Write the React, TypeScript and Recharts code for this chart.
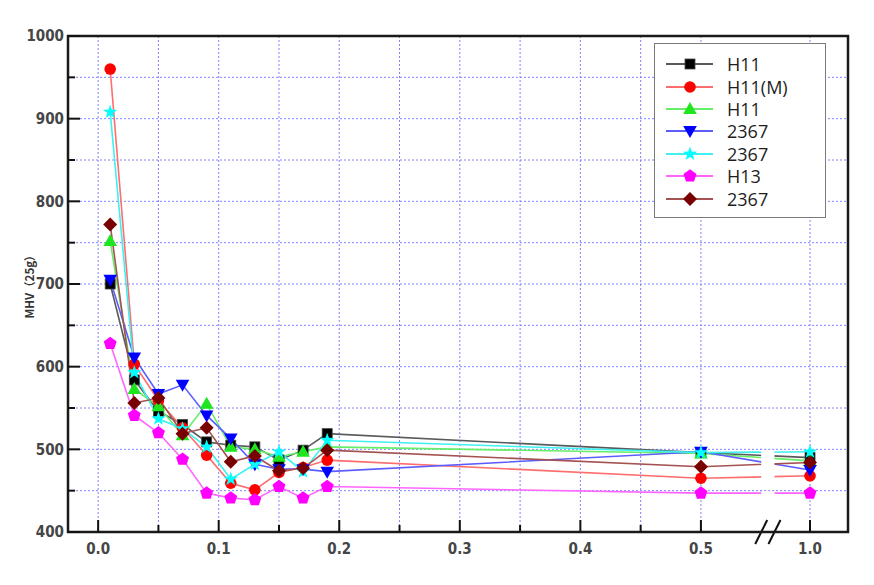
import React from 'react';
import { LineChart, Line, XAxis, YAxis, CartesianGrid, ReferenceArea, Legend } from 'recharts';

// ---- data ----
const depths = [0.01, 0.03, 0.05, 0.07, 0.09, 0.11, 0.13, 0.15, 0.17, 0.19, 0.5, 1.0];
const h11 = [700, 584, 546, 530, 509, 505, 503, 487, 499, 519, 496, 490];
const h11m = [960, 603, 559, 526, 493, 459, 451, 472, 478, 487, 465, 468];
const h11b = [752, 573, 552, 517, 555, 503, 500, 491, 497, 503, 495, 486];
const s2367a = [705, 611, 567, 578, 541, 513, 482, 476, 476, 473, 497, 475];
const s2367b = [908, 593, 537, 525, 503, 464, 482, 497, 473, 511, 496, 497];
const h13 = [628, 541, 520, 488, 447, 441, 439, 455, 441, 455, 447, 447];
const s2367c = [772, 556, 562, 519, 526, 485, 492, 474, 477, 499, 479, 484];

const seriesNames = ['H11', 'H11(M)', 'H11', '2367', '2367', 'H13', '2367'];
const xMajorTicks = [0, 0.1, 0.2, 0.3, 0.4, 0.5, 1.0];
const xTickLabels = ['0.0', '0.1', '0.2', '0.3', '0.4', '0.5', '1.0'];
const xMinorTicks = [0.05, 0.15, 0.25, 0.35, 0.45];
const yTicks = [400, 450, 500, 550, 600, 650, 700, 750, 800, 850, 900, 950, 1000];
const yAxisTitle = 'MHV（25g）';

// ---- broken x scale: values above 0.5 are compressed ----
const BREAK_AT = 0.5;
const COMPRESS = 0.181;
const toPos = (d: number) => (d <= BREAK_AT ? d : BREAK_AT + (d - BREAK_AT) * COMPRESS);
const X_DOMAIN: [number, number] = [-0.025, 0.622];
const GAP: [number, number] = [0.55, 0.561];

const valueSets = [h11, h11m, h11b, s2367a, s2367b, h13, s2367c];
const rows = depths.map((d, i) => {
  const r: any = { pos: toPos(d) };
  valueSets.forEach((vs, k) => (r['s' + k] = vs[i]));
  return r;
});

const series = [
  { marker: 'square', fill: '#000000', line: '#5a5a5a' },
  { marker: 'circle', fill: '#ff0000', line: '#ff6e6e' },
  { marker: 'triUp', fill: '#1ee61e', line: '#66ee66' },
  { marker: 'triDown', fill: '#0000ff', line: '#5c5cff' },
  { marker: 'star', fill: '#00ffff', line: '#3ff0f0' },
  { marker: 'pentagon', fill: '#ff00ff', line: '#ff66ff' },
  { marker: 'diamond', fill: '#780000', line: '#a45252' },
].map((s, i) => ({ ...s, key: 's' + i, name: seriesNames[i] }));

const polar = (cx: number, cy: number, r: number, deg: number) => {
  const a = (deg * Math.PI) / 180;
  return `${cx + r * Math.cos(a)},${cy + r * Math.sin(a)}`;
};

function marker(shape: string, fill: string, cx: number, cy: number, key?: any) {
  switch (shape) {
    case 'square':
      return <rect key={key} x={cx - 5} y={cy - 5} width={10} height={10} fill={fill} stroke="#444" strokeWidth={0.8} />;
    case 'circle':
      return <circle key={key} cx={cx} cy={cy} r={5.8} fill={fill} />;
    case 'triUp':
      return <polygon key={key} points={`${cx},${cy - 7} ${cx + 6.8},${cy + 5} ${cx - 6.8},${cy + 5}`} fill={fill} />;
    case 'triDown':
      return <polygon key={key} points={`${cx - 6.8},${cy - 5} ${cx + 6.8},${cy - 5} ${cx},${cy + 7}`} fill={fill} />;
    case 'star': {
      const pts = [];
      for (let i = 0; i < 10; i++) pts.push(polar(cx, cy, i % 2 ? 3 : 7.5, -90 + i * 36));
      return <polygon key={key} points={pts.join(' ')} fill={fill} />;
    }
    case 'pentagon': {
      const pts = [];
      for (let i = 0; i < 5; i++) pts.push(polar(cx, cy, 6.8, -90 + i * 72));
      return <polygon key={key} points={pts.join(' ')} fill={fill} />;
    }
    case 'diamond':
      return <polygon key={key} points={`${cx},${cy - 7} ${cx + 7},${cy} ${cx},${cy + 7} ${cx - 7},${cy}`} fill={fill} />;
    default:
      return <g key={key} />;
  }
}

const tickFont = "'Liberation Sans Narrow', 'DejaVu Sans Condensed', 'Arial Narrow', sans-serif";
const majorXPos = xMajorTicks.map(toPos);
const allXTicks = [...majorXPos, ...xMinorTicks.map(toPos)].sort((a, b) => a - b);

const XTick = (p: any) => {
  const { x, y, payload } = p;
  const idx = majorXPos.findIndex((m) => Math.abs(m - payload.value) < 1e-9);
  const major = idx >= 0;
  return (
    <g>
      <line x1={x} x2={x} y1={y} y2={y - (major ? 12 : 7)} stroke="#111" strokeWidth={2} />
      {major && (
        <text x={x} y={y + 17} dy="0.36em" textAnchor="middle" fontFamily={tickFont} fontSize={15} fontWeight="bold" fill="#454545">
          {xTickLabels[idx]}
        </text>
      )}
    </g>
  );
};

const YTick = (p: any) => {
  const { x, y, payload } = p;
  const major = payload.value % 100 === 0;
  return (
    <g>
      <line x1={x} x2={x + (major ? 12 : 7)} y1={y} y2={y} stroke="#111" strokeWidth={2} />
      {major && (
        <text x={x - 4} y={y} dy="0.36em" textAnchor="end" fontFamily={tickFont} fontSize={15} fontWeight="bold" fill="#454545">
          {payload.value}
        </text>
      )}
    </g>
  );
};

const YTitle = (p: any) => {
  const vb = p.viewBox || { x: 0, y: 0, width: 60, height: 500 };
  const cx = vb.x + vb.width / 2 - 8;
  const cy = vb.y + vb.height / 2;
  return (
    <text x={cx} y={cy} transform={`rotate(-90 ${cx} ${cy})`} textAnchor="middle" dy="0.36em"
      fontFamily="'Noto Sans CJK JP', sans-serif" fontWeight="bold" fontSize={11.5} fill="#333">
      {yAxisTitle}
    </text>
  );
};

const BreakShape = (p: any) => {
  const { x, y, width, height } = p;
  const bottom = y + height;
  const n = yTicks.length - 1;
  const grid = [];
  for (let k = 1; k < n; k++) {
    const gy = y + (k * height) / n;
    grid.push(<line key={k} x1={x - 1} x2={x + width + 1} y1={gy} y2={gy} stroke="#8080ff" strokeDasharray="2 2" />);
  }
  return (
    <g>
      <rect x={x} y={y + 2} width={width} height={height - 4} fill="#ffffff" />
      {grid}
      <line x1={x - 6} y1={bottom + 12} x2={x + 6} y2={bottom - 12} stroke="#111" strokeWidth={2} />
      <line x1={x + width - 6} y1={bottom + 12} x2={x + width + 6} y2={bottom - 12} stroke="#111" strokeWidth={2} />
    </g>
  );
};

const LegendBox = () => (
  <div style={{ width: 172, height: 175, boxSizing: 'border-box', border: '1px solid #7a7a7a', background: '#fff', paddingTop: 9 }}>
    {series.map((s, i) => (
      <div key={i} style={{ display: 'flex', alignItems: 'center', height: 22.4 }}>
        <svg width={72} height={20} style={{ display: 'block' }}>
          <line x1={11} x2={58} y1={10} y2={10} stroke={s.line} strokeWidth={2} />
          {marker(s.marker, s.fill, 35, 10)}
        </svg>
        <span style={{ fontFamily: "'Open Sans', sans-serif", fontSize: 18, color: '#1e1e1e', lineHeight: '20px' }}>{s.name}</span>
      </div>
    ))}
  </div>
);

export default function App() {
  return (
    <div style={{ width: 866, height: 577 }}>
      <LineChart width={866} height={577} data={rows} margin={{ top: 28, right: 26, bottom: 23, left: 0 }}>
        <CartesianGrid stroke="#8080ff" strokeDasharray="2 2" strokeWidth={1} />
        <XAxis
          dataKey="pos"
          type="number"
          domain={X_DOMAIN}
          allowDataOverflow
          ticks={allXTicks}
          interval={0}
          height={30}
          tickSize={0}
          tickMargin={0}
          tick={<XTick />}
          axisLine={{ stroke: '#111', strokeWidth: 2 }}
        />
        <YAxis
          type="number"
          domain={[400, 1000]}
          allowDataOverflow
          ticks={yTicks}
          interval={0}
          width={60}
          tickSize={0}
          tickMargin={0}
          tick={<YTick />}
          axisLine={{ stroke: '#111', strokeWidth: 2 }}
          label={<YTitle />}
        />
        {series.map((s) => (
          <Line
            key={s.key}
            dataKey={s.key}
            name={s.name}
            type="linear"
            stroke={s.line}
            strokeWidth={1.6}
            isAnimationActive={false}
            dot={(p: any) => marker(s.marker, s.fill, p.cx, p.cy, `${s.key}-${p.index}`)}
            activeDot={false}
          />
        ))}
        <ReferenceArea x1={GAP[0]} x2={GAP[1]} y1={400} y2={1000} shape={<BreakShape />} zIndex={1000} />
        <ReferenceArea x1={X_DOMAIN[0]} x2={X_DOMAIN[1]} y1={400} y2={1000} fill="none" fillOpacity={0} stroke="#1a1a1a" strokeWidth={2.5} zIndex={1001} />
        <Legend
          layout="vertical"
          align="center"
          verticalAlign="middle"
          content={<LegendBox />}
          wrapperStyle={{ left: 646, top: 35, width: 172, height: 175 }}
        />
      </LineChart>
    </div>
  );
}
